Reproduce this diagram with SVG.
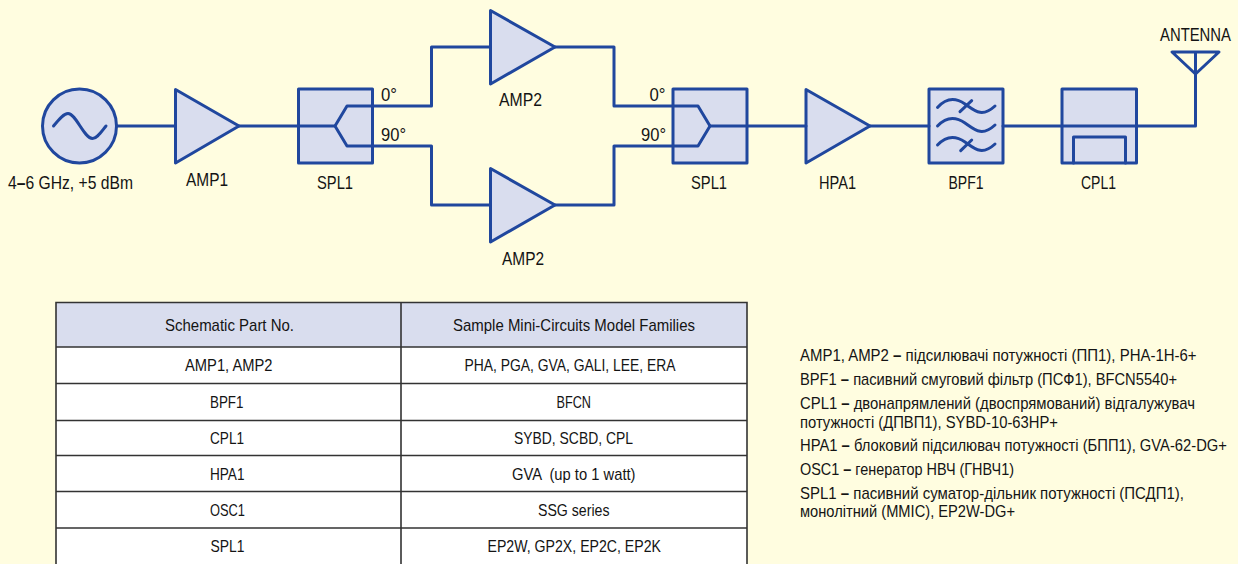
<svg xmlns="http://www.w3.org/2000/svg" width="1238" height="564" viewBox="0 0 1238 564">
<style>
.s{fill:#D9DDEE;stroke:#20479E;stroke-width:3;stroke-linejoin:round}
.w{fill:none;stroke:#20479E;stroke-width:3;stroke-linejoin:round;stroke-linecap:round}
text{font-family:"Liberation Sans",Arial,sans-serif;fill:#141414}
.l{font-size:19px}
.t{font-size:17px}
.n{font-size:17px}
.b{font-weight:bold}
.g{stroke:#333;stroke-width:1.6;fill:none}
</style>
<rect width="1238" height="564" fill="#FFFDE0"/>
<g id="OSC1"><circle class="s" cx="79.5" cy="126" r="37"/><path class="w" d="M53.5 126C60 118 64 113.500 68 113.500C76 113.500 84 138.500 92.500 138.500C97 138.500 101 132 106 126"/><text class="l" x="8" y="189" textLength="125" lengthAdjust="spacingAndGlyphs">4<tspan class="b">–</tspan>6 GHz, +5 dBm</text></g>
<g id="AMP1"><path class="s" d="M175.500 89.500L239 126L175.500 163Z"/><text class="l" x="186" y="186" textLength="42" lengthAdjust="spacingAndGlyphs">AMP1</text></g>
<g id="SPL1a"><rect class="s" x="298.500" y="89" width="74" height="74"/><text class="l" x="317" y="189" textLength="36" lengthAdjust="spacingAndGlyphs">SPL1</text><text class="l" x="381" y="101" textLength="16" lengthAdjust="spacingAndGlyphs">0°</text><text class="l" x="381" y="141" textLength="25" lengthAdjust="spacingAndGlyphs">90°</text></g>
<g id="AMP2a"><path class="s" d="M490.500 10.500L555 47L490.500 84Z"/><text class="l" x="499" y="106" textLength="43" lengthAdjust="spacingAndGlyphs">AMP2</text></g>
<g id="AMP2b"><path class="s" d="M490.500 168.500L555 205L490.500 242Z"/><text class="l" x="502" y="265" textLength="42" lengthAdjust="spacingAndGlyphs">AMP2</text></g>
<g id="SPL1b"><rect class="s" x="673" y="89" width="74" height="74"/><text class="l" x="691" y="189" textLength="36" lengthAdjust="spacingAndGlyphs">SPL1</text><text class="l" x="649.500" y="101" textLength="16" lengthAdjust="spacingAndGlyphs">0°</text><text class="l" x="641" y="141" textLength="25" lengthAdjust="spacingAndGlyphs">90°</text></g>
<g id="HPA1"><path class="s" d="M806 89.500L870 126L806 163Z"/><text class="l" x="819" y="189" textLength="37" lengthAdjust="spacingAndGlyphs">HPA1</text></g>
<g id="BPF1"><rect class="s" x="929" y="89" width="74" height="74"/><path class="w" d="M937.500 107.500C946 98 955 97 965 104S982 118 995 106M937.500 126C946 117 955 116 965 123S982 137 995 125M937.500 145C946 136 955 135 965 142S982 156 995 144M960 111.700L971.700 100.700M960.700 150.700L971.700 140"/><text class="l" x="948.500" y="189" textLength="35" lengthAdjust="spacingAndGlyphs">BPF1</text></g>
<g id="CPL1"><rect class="s" x="1062" y="89" width="74.500" height="74"/><path class="w" d="M1073.500 163V137H1125.500V163"/><text class="l" x="1081" y="189" textLength="35" lengthAdjust="spacingAndGlyphs">CPL1</text></g>
<g id="ANTENNA"><path class="w" d="M1172 52H1219L1195.500 74ZM1195.500 52V74"/><text class="l" transform="translate(1160 41) scale(.8 1)" textLength="88.750" lengthAdjust="spacingAndGlyphs">ANTENNA</text></g>
<g id="connectors">
<path class="w" d="M117 126H175M239 126H335"/>
<path class="w" d="M335 126L347 106H431.500V47H490M335 126L347 146H431.500V205H490"/>
<path class="w" d="M555 47H614V106H698L710 126L698 146H614V205H555"/>
<path class="w" d="M710 126H806M870 126H929M1003 126H1062"/>
<path class="w" d="M1062 126H1195.500V74"/>
</g>
<g id="table">
<rect x="56" y="302" width="691" height="45" fill="#D9DDEE"/>
<rect x="56" y="347" width="691" height="217" fill="#fff"/>
<path class="g" d="M56 564V302.500H747V564M401 302.500V564M56 347H747M56 383.500H747M56 420.500H747M56 455.500H747M56 491.500H747M56 528H747"/>
<text class="t" x="165" y="331" textLength="129" lengthAdjust="spacingAndGlyphs">Schematic Part No.</text>
<text class="t" x="453" y="331" textLength="242" lengthAdjust="spacingAndGlyphs">Sample Mini-Circuits Model Families</text>
<text class="t" x="185" y="371" textLength="87.500" lengthAdjust="spacingAndGlyphs">AMP1, AMP2</text>
<text class="t" x="464.500" y="371" textLength="211" lengthAdjust="spacingAndGlyphs">PHA, PGA, GVA, GALI, LEE, ERA</text>
<text class="t" x="210" y="407.500" textLength="33.500" lengthAdjust="spacingAndGlyphs">BPF1</text>
<text class="t" x="556.500" y="407.500" textLength="34.500" lengthAdjust="spacingAndGlyphs">BFCN</text>
<text class="t" x="210" y="443.500" textLength="34" lengthAdjust="spacingAndGlyphs">CPL1</text>
<text class="t" x="514" y="443.500" textLength="119" lengthAdjust="spacingAndGlyphs">SYBD, SCBD, CPL</text>
<text class="t" x="210" y="480" textLength="34.500" lengthAdjust="spacingAndGlyphs">HPA1</text>
<text class="t" x="512" y="480" textLength="123.500" lengthAdjust="spacingAndGlyphs" xml:space="preserve">GVA  (up to 1 watt)</text>
<text class="t" x="210" y="515.500" textLength="35" lengthAdjust="spacingAndGlyphs">OSC1</text>
<text class="t" x="538" y="515.500" textLength="71.500" lengthAdjust="spacingAndGlyphs">SSG series</text>
<text class="t" x="210.500" y="552" textLength="34" lengthAdjust="spacingAndGlyphs">SPL1</text>
<text class="t" x="487.500" y="552" textLength="173.500" lengthAdjust="spacingAndGlyphs">EP2W, GP2X, EP2C, EP2K</text>
</g>
<g id="notes" transform="translate(800 1) scale(.75 1)">
<text class="n" x="0" y="360.500" textLength="528.700" lengthAdjust="spacingAndGlyphs">AMP1, AMP2 <tspan class="b">–</tspan> підсилювачі потужності (ПП1), PHA-1H-6+</text>
<text class="n" x="0" y="384.500" textLength="502.700" lengthAdjust="spacingAndGlyphs">BPF1 <tspan class="b">–</tspan> пасивний смуговий фільтр (ПСФ1), BFCN5540+</text>
<text class="n" x="0" y="408.500" textLength="526.700" lengthAdjust="spacingAndGlyphs">CPL1 <tspan class="b">–</tspan> двонапрямлений (двоспрямований) відгалужувач</text>
<text class="n" x="0" y="427.500" textLength="344" lengthAdjust="spacingAndGlyphs">потужності (ДПВП1), SYBD-10-63HP+</text>
<text class="n" x="0" y="450.500" textLength="569.300" lengthAdjust="spacingAndGlyphs">HPA1 <tspan class="b">–</tspan> блоковий підсилювач потужності (БПП1), GVA-62-DG+</text>
<text class="n" x="0" y="474.500" textLength="285.300" lengthAdjust="spacingAndGlyphs">OSC1 <tspan class="b">–</tspan> генератор НВЧ (ГНВЧ1)</text>
<text class="n" x="0" y="498.500" textLength="512" lengthAdjust="spacingAndGlyphs">SPL1 <tspan class="b">–</tspan> пасивний суматор-дільник потужності (ПСДП1),</text>
<text class="n" x="0" y="516.500" textLength="286.700" lengthAdjust="spacingAndGlyphs">монолітний (MMIC), EP2W-DG+</text>
</g>
</svg>
